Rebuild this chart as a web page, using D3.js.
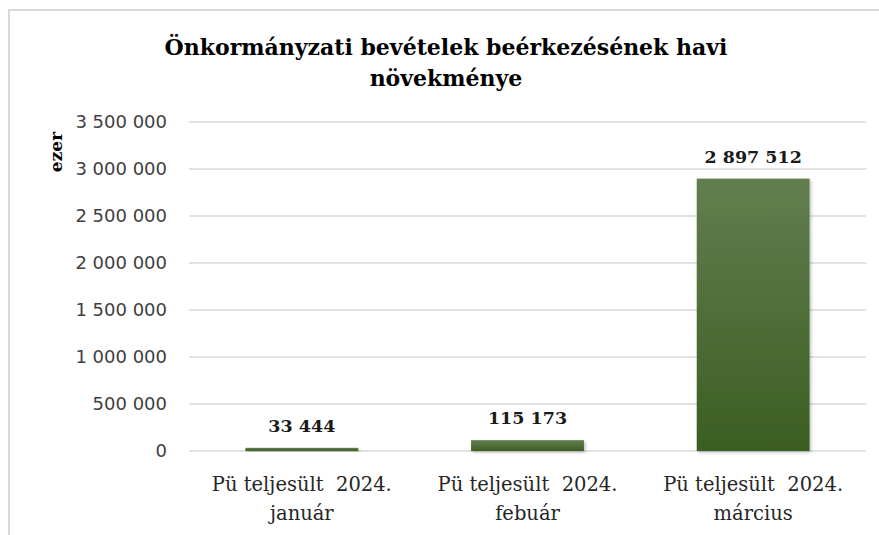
<!DOCTYPE html>
<html><head><meta charset="utf-8">
<script src="https://cdn.jsdelivr.net/npm/d3@7"></script>
<style>body{margin:0;background:#fff;}svg{display:block;} text{white-space:pre;}</style>
</head><body>
<svg id="c" width="879" height="535"></svg>
<script>
const categories = ["Pü teljesült  2024. január", "Pü teljesült  2024. febuár", "Pü teljesült  2024. március"];
const categoryLines = [["Pü teljesült  2024.", "január"], ["Pü teljesült  2024.", "febuár"], ["Pü teljesült  2024.", "március"]];
const values = [33444, 115173, 2897512];
const yTicks = [0, 500000, 1000000, 1500000, 2000000, 2500000, 3000000, 3500000];
const titleLines = ["Önkormányzati bevételek beérkezésének havi", "növekménye"];
const yAxisTitle = "ezer";

const svg = d3.select("#c");
const W = 879, H = 535;
const m = {left: 189, right: 13, top: 122, bottom: 84};
const fmt = v => d3.format(",")(v).replace(/,/g, " ");

// frame
svg.append("path").attr("d", `M9,${H}V10H${W}`).attr("fill","none").attr("stroke","#d9d9d9").attr("stroke-width",2);

const defs = svg.append("defs");
const g1 = defs.append("linearGradient").attr("id","bg").attr("x1",0).attr("y1",0).attr("x2",0).attr("y2",1);
g1.append("stop").attr("offset","0%").attr("stop-color","#627e50");
g1.append("stop").attr("offset","100%").attr("stop-color","#3b5e22");
const f = defs.append("filter").attr("id","sh").attr("x","-10%").attr("y","-10%").attr("width","130%").attr("height","130%");
f.append("feDropShadow").attr("dx",1.5).attr("dy",1.5).attr("stdDeviation",1.5).attr("flood-color","#000").attr("flood-opacity",0.25);

const x = d3.scaleBand().domain(categories).range([m.left, W - m.right]).paddingInner(0.5).paddingOuter(0.25);
const y = d3.scaleLinear().domain([0, 3500000]).range([H - m.bottom, m.top]);

// gridlines
svg.append("g").selectAll("line").data(yTicks).join("line")
  .attr("x1", m.left).attr("x2", W - m.right)
  .attr("y1", d => y(d)).attr("y2", d => y(d))
  .attr("stroke", "#d9d9d9").attr("stroke-width", 1.3);

// y axis labels
const ya = svg.append("g").attr("transform", `translate(${m.left - 22},0)`)
  .call(d3.axisLeft(y).tickValues(yTicks).tickFormat(fmt).tickSize(0).tickPadding(0));
ya.select(".domain").remove();
ya.selectAll("text").attr("font-family","'DejaVu Sans', sans-serif").attr("font-size", 18).attr("fill","#404040");

// bars
svg.append("g").selectAll("rect").data(values).join("rect")
  .attr("x", (d,i) => x(categories[i]))
  .attr("width", x.bandwidth())
  .attr("y", d => y(d))
  .attr("height", d => y(0) - y(d))
  .attr("fill", "url(#bg)")
  .attr("filter", "url(#sh)");

// value labels
svg.append("g").selectAll("text").data(values).join("text")
  .attr("x", (d,i) => x(categories[i]) + x.bandwidth()/2)
  .attr("y", d => y(d) - 16)
  .attr("text-anchor","middle")
  .attr("font-family","'DejaVu Serif', serif").attr("font-weight","bold").attr("font-size",17.5)
  .attr("fill","#1a1a1a")
  .text(d => fmt(d));

// category labels
const cl = svg.append("g").selectAll("text").data(categories).join("text")
  .attr("text-anchor","middle")
  .attr("font-family","'DejaVu Serif', serif").attr("font-size",19.5).attr("fill","#262626");
cl.each(function(d,i){
  const t = d3.select(this);
  categoryLines[i].forEach((ln,k) => {
    t.append("tspan").attr("x", x(d) + x.bandwidth()/2).attr("y", 491 + k*29).text(ln);
  });
});

// title
svg.append("text").attr("text-anchor","middle")
  .attr("font-family","'DejaVu Serif', serif").attr("font-weight","bold").attr("font-size",22).attr("fill","#000")
  .selectAll("tspan").data(titleLines).join("tspan")
  .attr("x", 446).attr("y", (d,i) => 55 + i*31).text(d => d);

// y axis title
svg.append("text").attr("transform","translate(62,152) rotate(-90)")
  .attr("text-anchor","middle")
  .attr("font-family","'DejaVu Serif', serif").attr("font-weight","bold").attr("font-size",17).attr("fill","#000")
  .text(yAxisTitle);
</script>
</body></html>
